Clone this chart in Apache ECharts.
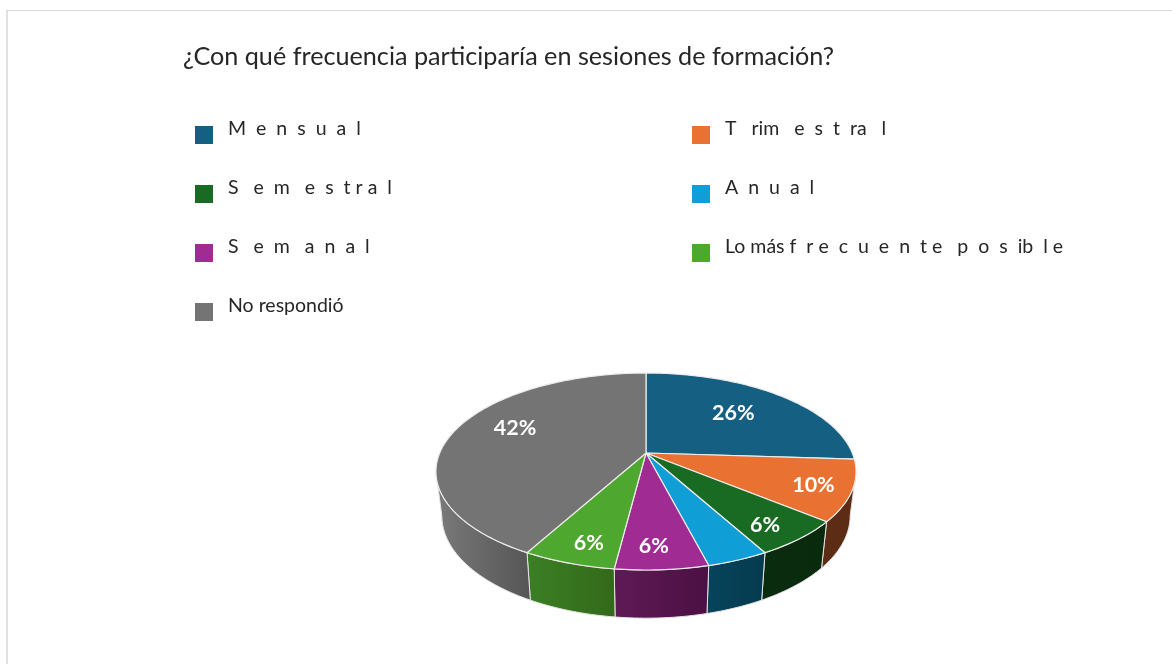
<!DOCTYPE html>
<html><head><meta charset="utf-8">
<style>html,body{margin:0;padding:0;background:#fff}#c{width:1172px;height:664px}</style>
<script src="https://cdn.jsdelivr.net/npm/echarts@6/dist/echarts.min.js"></script>
</head><body><div id="c"></div>
<script>
var categories = ['Mensual','Trimestral','Semestral','Anual','Semanal','Lo más frecuente posible','No respondió'];
var legendNames = ['M  e  n  s  u  a  l','T   rim   e  s  t  ra   l','S   e  m   e  s  t r a  l','A  n  u  a  l','S   e  m   a  n  a  l','Lo más f  r e  c  u  e  n  t e   p  o  s  ib  l e','No respondió'];
var values = [26,10,6,4,6,6,42];
var pctLabels = ['26%','10%','6%','','6%','6%','42%'];
var colors = ['#156082','#E97132','#196B24','#0F9ED5','#A02B93','#4EA72E','#747474'];
var wallLeft = ['#0a3041','#5c2c15','#0a2c0e','#06445c','#5f1a56','#3b7f24','#7a7a7a'];
var wallRight = ['#0a3041','#5c2c15','#0a2a0d','#053b4e','#4b1043','#33691a','#555555'];
var labelR = [0.62,0.8,0.8,0,0.83,0.82,0.66];
var labelDx = [1,5,0,0,-5,4,-3];
var labelDy = [-3,2,6,0,0,3,-10];

// Tilted-disc projection
var cx=646, cy=453, Rx=206.3, Sy=95, k=0.188, depthScale=0.972, yScale=1.04, depth=43.5;
var visFrom=Math.acos(-k), visTo=2*Math.PI-visFrom;
function project(r, th){
  var u=r*Math.sin(th), v=-r*Math.cos(th), d=1-k*v;
  return [cx+Rx*u/d, cy+Sy*v/d];
}
function lower(p){ return [cx+(p[0]-cx)*depthScale, cy+(p[1]-cy)*yScale+depth]; }
function arcPts(a0,a1){
  var n=Math.max(6,Math.ceil((a1-a0)/0.02)), arc=[];
  for(var t=0;t<=n;t++) arc.push(project(1,a0+(a1-a0)*t/n));
  return arc;
}
var total=values.reduce(function(a,b){return a+b;},0);
function startOf(i){ var s=0; for(var j=0;j<i;j++) s+=values[j]; return s; }

function makeRender(i){
  return function(params, api){
    var val=api.value(0), s=startOf(i);
    var a0=s/total*2*Math.PI, a1=(s+val)/total*2*Math.PI;
    var arc=arcPts(a0,a1), kids=[];
    var w0=Math.max(a0,visFrom), w1=Math.min(a1,visTo);
    if(w1>w0){
      var wa=arcPts(w0,w1);
      kids.push({type:'polygon',z2:1+i,shape:{points:wa.concat(wa.map(lower).reverse())},
       style:{fill:new echarts.graphic.LinearGradient(0,0,1,0,[{offset:0,color:wallLeft[i]},{offset:1,color:wallRight[i]}]),stroke:'#e4e4e4',lineWidth:1}});
    }
    kids.push({type:'polygon',z2:20,shape:{points:[[cx,cy]].concat(arc)},
       style:{fill:colors[i],stroke:'#ececec',lineWidth:1.2}});
    var lp=project(labelR[i],(a0+a1)/2);
    kids.push({type:'text',z2:30,x:lp[0]+labelDx[i],y:lp[1]+labelDy[i],
       style:{text:pctLabels[i],fill:'#fff',font:'bold 21.5px Lato',align:'center',verticalAlign:'middle'}});
    return {type:'group',children:kids};
  };
}
var series=categories.map(function(c,i){
  return {type:'custom',name:legendNames[i],coordinateSystem:'none',silent:true,animation:false,
    itemStyle:{color:colors[i]},data:[[values[i]]],renderItem:makeRender(i)};
});
function col(left,ids){
  return {left:left,top:119,orient:'vertical',padding:0,itemWidth:18,itemHeight:18,itemGap:34,selectedMode:false,
    icon:'rect',align:'left',data:ids.map(function(i){return legendNames[i];}),
    formatter:function(n){return '{t|'+n+'}';},
    textStyle:{rich:{t:{fontFamily:'Lato',fontSize:19.5,color:'#262626',padding:[0,0,12,10]}}}};
}
var chart=echarts.init(document.getElementById('c'));
chart.setOption({
  backgroundColor:'#fff',animation:false,
  title:{text:'¿Con qué frecuencia participaría en sesiones de formación?',left:183,top:44,padding:0,
    textStyle:{fontFamily:'Lato',fontSize:25.2,fontWeight:'normal',color:'#262626'}},
  legend:[col(195,[0,2,4,6]),col(692,[1,3,5])],
  graphic:[
    {type:'rect',silent:true,shape:{x:6,y:10,width:2,height:654},style:{fill:'#e0e0e0'}},
    {type:'rect',silent:true,shape:{x:6,y:10,width:1166,height:1},style:{fill:'#d9d9d9'}}
  ],
  series:series
});
</script></body></html>
